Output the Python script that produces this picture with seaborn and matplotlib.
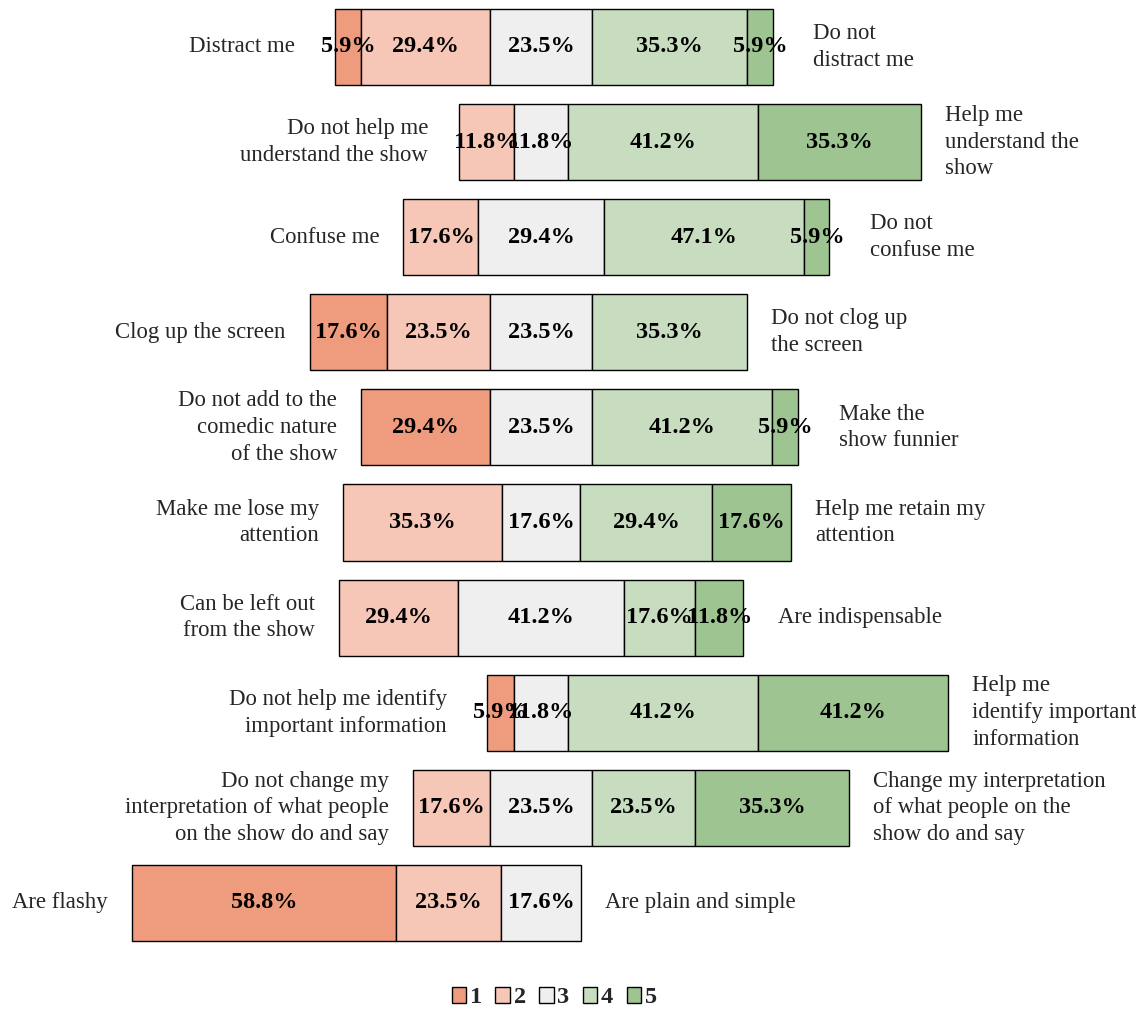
import numpy as np
import matplotlib
matplotlib.use("Agg")
import matplotlib.pyplot as plt
import seaborn as sns
from matplotlib.patches import Patch

left_labels = [
    "Distract me",
    "Do not help me\nunderstand the show",
    "Confuse me",
    "Clog up the screen",
    "Do not add to the\ncomedic nature\nof the show",
    "Make me lose my\nattention",
    "Can be left out\nfrom the show",
    "Do not help me identify\nimportant information",
    "Do not change my\ninterpretation of what people\non the show do and say",
    "Are flashy",
]
right_labels = [
    "Do not\ndistract me",
    "Help me\nunderstand the\nshow",
    "Do not\nconfuse me",
    "Do not clog up\nthe screen",
    "Make the\nshow funnier",
    "Help me retain my\nattention",
    "Are indispensable",
    "Help me\nidentify important\ninformation",
    "Change my interpretation\nof what people on the\nshow do and say",
    "Are plain and simple",
]
s1 = [5.9, 0, 0, 17.6, 29.4, 0, 0, 5.9, 0, 58.8]
s2 = [29.4, 11.8, 17.6, 23.5, 0, 35.3, 29.4, 0, 17.6, 23.5]
s3 = [23.5, 11.8, 29.4, 23.5, 23.5, 17.6, 41.2, 11.8, 23.5, 17.6]
s4 = [35.3, 41.2, 47.1, 35.3, 41.2, 29.4, 17.6, 41.2, 23.5, 0]
s5 = [5.9, 35.3, 5.9, 0, 5.9, 17.6, 11.8, 41.2, 35.3, 0]
levels = ["1", "2", "3", "4", "5"]
colors = ["#EF9C7E", "#F6C6B7", "#EFEFEF", "#C8DDC0", "#9EC491"]

# each row was its own little chart, so each has its own x scale (pixels per %)
row_scale = [4.38, 4.61, 4.26, 4.38, 4.37, 4.48, 4.04, 4.61, 4.37, 4.49]

sns.set_theme(style="white")
plt.rcParams["font.family"] = ["Liberation Serif", "DejaVu Serif"]

W, H = 1136, 1011
fig = plt.figure(figsize=(W / 100, H / 100), dpi=100)
renderer = fig.canvas.get_renderer()

series = np.array([s1, s2, s3, s4, s5])
cx = 541       # pixel column of the neutral midpoint
row0, pitch = 47, 95.1

for i in range(len(left_labels)):
    s = row_scale[i]
    yc = row0 + pitch * i
    ax = fig.add_axes([0, 1 - (yc + pitch / 2) / H, 1, pitch / H])
    ax.set_xlim(-cx / s, (W - cx) / s)
    ax.set_ylim(0.5, -0.5)
    ax.axis("off")

    vals = series[:, i]
    start = -(vals[0] + vals[1] + vals[2] / 2)
    left = start
    pct = []
    for k in range(5):
        v = vals[k]
        if v > 0:
            ax.barh(0, v, left=left, height=0.8, color=colors[k],
                    edgecolor="black", linewidth=1.0)
            pct.append(ax.text(left + v / 2, 0, f"{v:.1f}%", ha="center",
                               va="center", fontsize=17.5, fontweight="bold",
                               color="black"))
        left += v
    end = left

    # side labels sit clear of the bar and of any value label spilling out
    bb_l = pct[0].get_window_extent(renderer)
    bb_r = pct[-1].get_window_extent(renderer)
    x_l = min(start - 24 / s, (bb_l.x0 - cx - 26) / s)
    x_r = max(end + 24 / s, (bb_r.x1 - cx + 26) / s)
    ax.text(x_l, 0, left_labels[i], ha="right", va="center",
            fontsize=16.4, linespacing=1.36)
    ax.text(x_r, 0, right_labels[i], ha="left", va="center",
            fontsize=16.4, linespacing=1.36)

handles = [Patch(facecolor=c, edgecolor="black", linewidth=1.0) for c in colors]
fig.legend(handles, levels, loc="center", bbox_to_anchor=(0.488, 0.013), ncol=5,
           frameon=False, handlelength=0.6, handleheight=0.6, handletextpad=0.15,
           columnspacing=0.55, prop={"weight": "bold", "size": 17.5})

fig.savefig("out.png", dpi=100)
